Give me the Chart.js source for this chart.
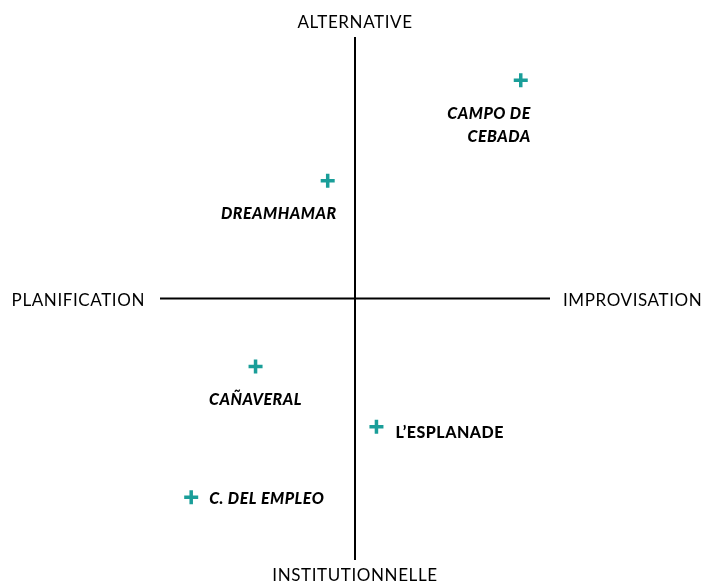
<!DOCTYPE html>
<html lang="fr">
<head>
  <meta charset="UTF-8" />
  <title>Chart</title>
  <style>
    html, body { margin: 0; padding: 0; background: #fff; }
    #wrap { width: 705px; height: 585px; position: relative; }
  </style>
</head>
<body>
  <div id="wrap"><canvas id="myChart"></canvas></div>

  <script src="https://cdn.jsdelivr.net/npm/chart.js"></script>
  <script>
    const ctx = document.getElementById('myChart');

    // projects, x: planification (-) .. improvisation (+), y: institutionnelle (-) .. alternative (+)
    const projects = ['CAMPO DE CEBADA', 'DREAMHAMAR', 'CAÑAVERAL', 'L’ESPLANADE', 'C. DEL EMPLEO'];
    const xValues = [8.5, -1.4, -5.1, 1.1, -8.4];
    const yValues = [8.35, 4.5, -2.6, -4.9, -7.6];

    const axisNames = { top: 'ALTERNATIVE', bottom: 'INSTITUTIONNELLE', left: 'PLANIFICATION', right: 'IMPROVISATION' };

    const TEAL = '#1a9e99';
    const FONT = 'Lato, sans-serif';

    // how each label sits relative to its marker
    const labelPlace = [
      { lines: ['CAMPO DE', 'CEBADA'], dx: 10, dy: 34, align: 'right', italic: true },
      { lines: ['DREAMHAMAR'], dx: 9, dy: 33, align: 'right', italic: true },
      { lines: ['CAÑAVERAL'], dx: 0, dy: 33, align: 'center', italic: true },
      { lines: ['L’ESPLANADE'], dx: 19, dy: 6, align: 'left', italic: false },
      { lines: ['C. DEL EMPLEO'], dx: 18, dy: 2, align: 'left', italic: true }
    ];

    const labelPlugin = {
      id: 'quadLabels',
      afterDatasetsDraw(chart) {
        const c = chart.ctx;
        const area = chart.chartArea;
        const xs = chart.scales.x, ys = chart.scales.y;
        const cx = xs.getPixelForValue(0), cy = ys.getPixelForValue(0);
        c.save();
        c.fillStyle = '#000';
        c.textBaseline = 'middle';
        c.font = '17px ' + FONT;
        c.letterSpacing = '0.6px';
        c.textAlign = 'center';
        c.fillText(axisNames.top, cx, area.top - 14);
        c.fillText(axisNames.bottom, cx, area.bottom + 16);
        c.textAlign = 'right';
        c.fillText(axisNames.left, area.left - 15, cy + 2);
        c.textAlign = 'left';
        c.fillText(axisNames.right, area.right + 13, cy + 2);

        c.letterSpacing = '0.5px';
        const meta = chart.getDatasetMeta(2);
        meta.data.forEach((pt, i) => {
          const p = labelPlace[i];
          c.font = (p.italic ? 'italic ' : '') + '900 16px ' + FONT;
          c.textAlign = p.align;
          p.lines.forEach((ln, k) => {
            c.fillText(ln, pt.x + p.dx, pt.y + p.dy + k * 23);
          });
        });
        c.restore();
      }
    };

    new Chart(ctx, {
      type: 'scatter',
      data: {
        datasets: [
          {
            type: 'line',
            data: [{ x: -10, y: 0 }, { x: 10, y: 0 }],
            borderColor: '#000', borderWidth: 2, pointRadius: 0
          },
          {
            type: 'line',
            data: [{ x: 0, y: -10 }, { x: 0, y: 10 }],
            borderColor: '#000', borderWidth: 2, pointRadius: 0
          },
          {
            label: 'Projets',
            data: projects.map((p, i) => ({ x: xValues[i], y: yValues[i] })),
            pointStyle: 'cross',
            pointRadius: 7,
            pointHoverRadius: 7,
            borderColor: TEAL,
            backgroundColor: TEAL,
            pointBorderWidth: 3.5
          }
        ]
      },
      options: {
        responsive: true,
        maintainAspectRatio: false,
        animation: false,
        layout: { padding: { left: 160, right: 155, top: 37, bottom: 25 } },
        scales: {
          x: { type: 'linear', min: -10, max: 10, display: false },
          y: { type: 'linear', min: -10, max: 10, display: false }
        },
        plugins: {
          legend: { display: false },
          tooltip: { enabled: false }
        }
      },
      plugins: [labelPlugin]
    });
  </script>
</body>
</html>
